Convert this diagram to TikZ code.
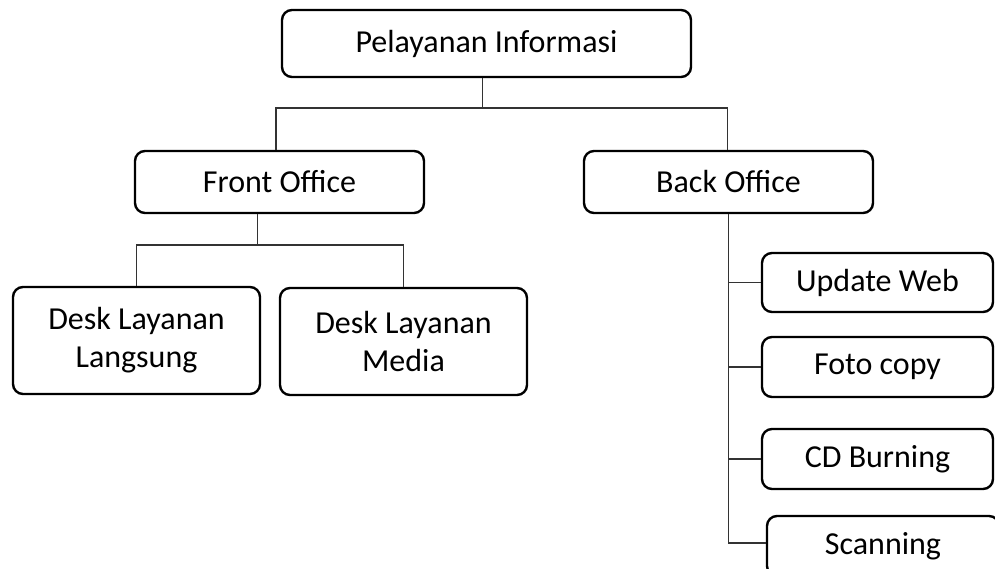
\documentclass[tikz,border=0pt]{standalone}
\usepackage{fontspec}
\setmainfont{Carlito}
\begin{document}
\begin{tikzpicture}[x=1pt,y=-1pt,
  box/.style={draw=black, line width=2.4pt, rounded corners=10pt, inner sep=0pt,
    align=center, font=\fontsize{32}{38}\selectfont},
  conn/.style={draw=black!80, line width=1.3pt}]
\useasboundingbox (0,0) rectangle (995,569);
\node[box, minimum width=409pt, minimum height=67pt] (pel) at (486.5,43.5) {Pelayanan Informasi};
\node[box, minimum width=289pt, minimum height=62pt] (fo) at (279.5,182) {Front Office};
\node[box, minimum width=289pt, minimum height=62pt] (bo) at (728.5,182) {Back Office};
\node[box, minimum width=247pt, minimum height=107pt] (dl) at (136.5,340.5) {Desk Layanan\\Langsung};
\node[box, minimum width=247pt, minimum height=107pt] (dm) at (403.5,341.5) {Desk Layanan\\Media};
\node[box, minimum width=231pt, minimum height=59pt] (uw) at (877.5,282.5) {Update Web};
\node[box, minimum width=231pt, minimum height=60pt] (fc) at (877.5,367) {Foto copy};
\node[box, minimum width=231pt, minimum height=60pt] (cd) at (877.5,459) {CD Burning};
\node[box, minimum width=232pt, minimum height=60pt] (sc) at (883,546) {Scanning};
\coordinate (busA) at (0,108);
\coordinate (busB) at (0,245);
\draw[conn] ([xshift=-4pt]pel.south) -- ([xshift=-4pt]pel.south |- busA);
\draw[conn] ([xshift=-3.5pt]fo.north) |- ([xshift=-1pt]bo.north |- busA) -- ([xshift=-1pt]bo.north);
\draw[conn] ([xshift=-22pt]fo.south) -- ([xshift=-22pt]fo.south |- busB);
\draw[conn] (dl.north) |- (dm.north |- busB) -- (dm.north);
\draw[conn] (bo.south) |- ([yshift=3pt]sc.west);
\draw[conn] (bo.south |- uw.west) -- (uw.west);
\draw[conn] (bo.south |- fc.west) -- (fc.west);
\draw[conn] (bo.south |- cd.west) -- (cd.west);
\end{tikzpicture}
\end{document}
